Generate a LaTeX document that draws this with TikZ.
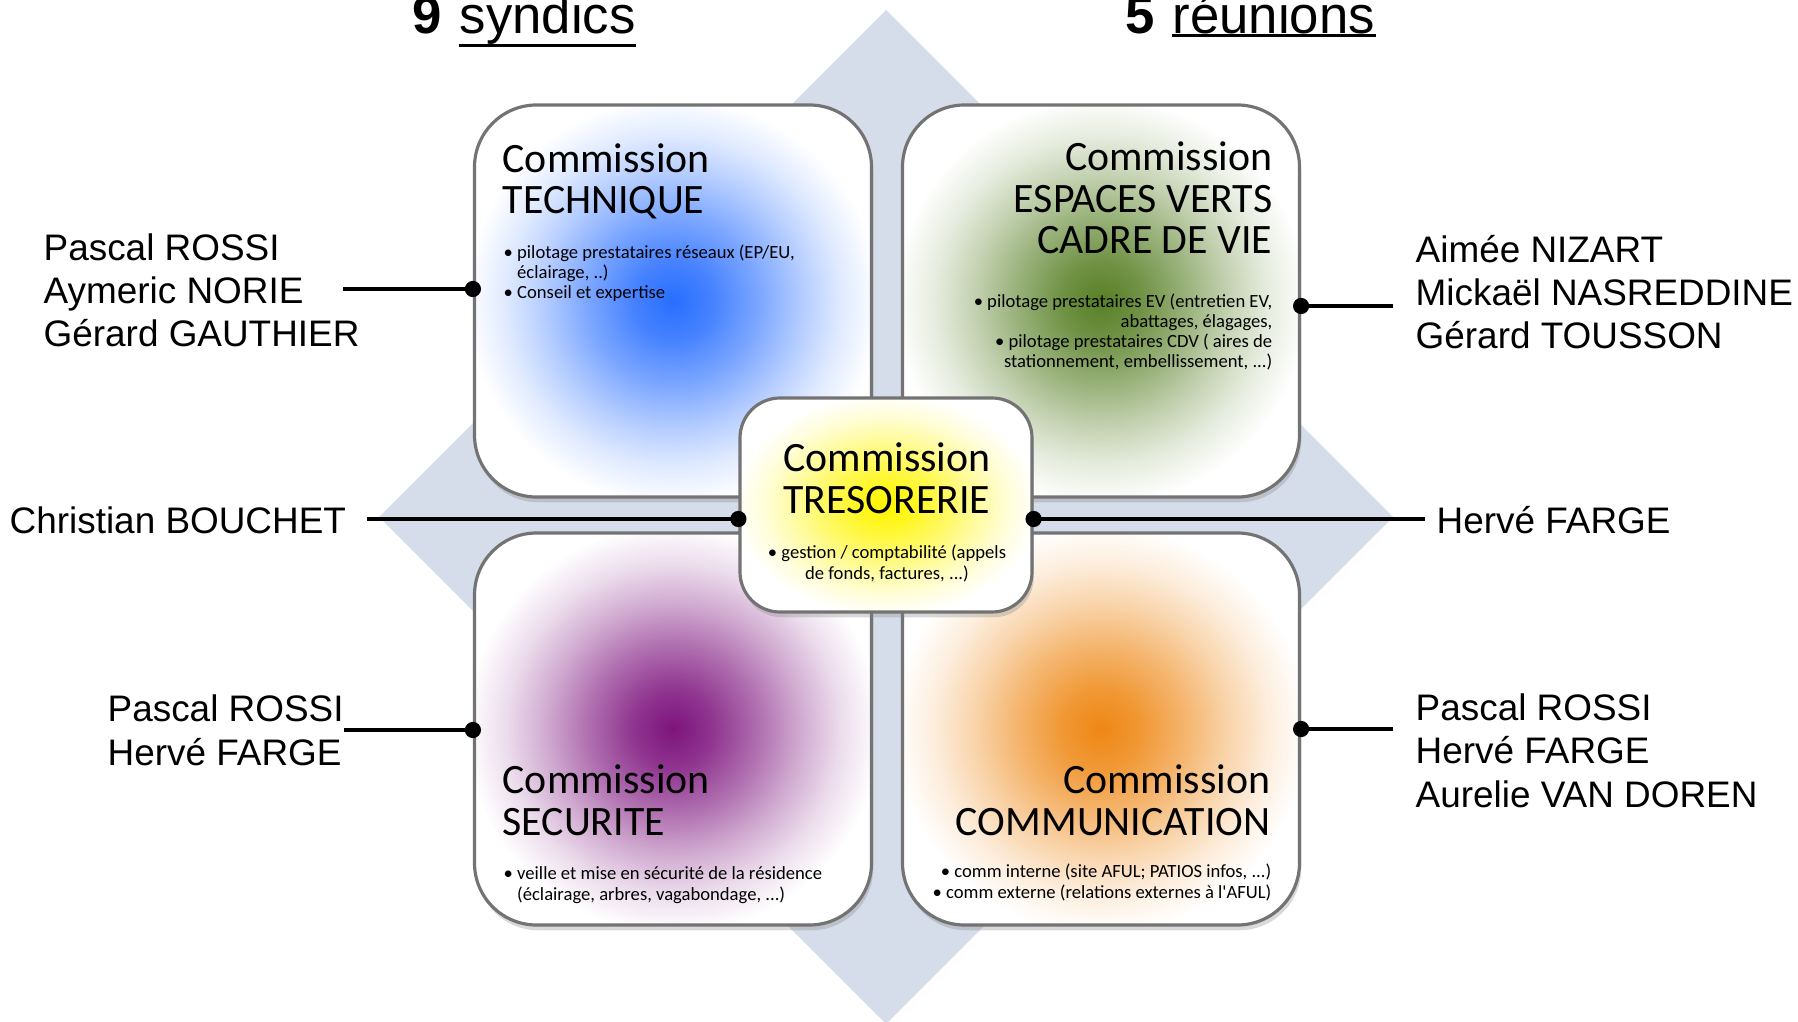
\documentclass[tikz,border=0pt]{standalone}
\usepackage{fontspec}
\usepackage{xcolor}
\setmainfont{Liberation Sans}
\newfontfamily\carlito{Carlito}
\usetikzlibrary{shadows}

\definecolor{diamondblue}{RGB}{213,220,234}
\definecolor{techblue}{RGB}{40,110,255}
\definecolor{evgreen}{RGB}{88,128,38}
\definecolor{secpurple}{RGB}{125,20,125}
\definecolor{comorange}{RGB}{238,135,20}
\definecolor{tresyellow}{RGB}{255,245,0}

\newcommand{\glowshading}[2]{%
  \pgfdeclareradialshading{#1}{\pgfpoint{0bp}{0bp}}{%
    color(0bp)=(#2); color(5bp)=(#2!86!white); color(11bp)=(#2!60!white);
    color(16bp)=(#2!36!white); color(21bp)=(#2!15!white);
    color(26bp)=(white); color(50bp)=(white)}}
\glowshading{techglow}{techblue}
\glowshading{evglow}{evgreen}
\glowshading{secglow}{secpurple}
\glowshading{comglow}{comorange}
\glowshading{tresglow}{tresyellow}

\begin{document}
\begin{tikzpicture}[
    comm/.style={draw=gray!90!black, line width=0.9pt, rounded corners=0.62cm,
      minimum width=3.97cm, minimum height=3.92cm,
      drop shadow={shadow xshift=0.5pt, shadow yshift=-1.5pt, opacity=0.3}},
    ctitle/.style={inner sep=0pt, font=\carlito\fontsize{11.9}{11.9}\selectfont},
    citems/.style={inner sep=0pt, font=\carlito\fontsize{5.3}{5.7}\selectfont},
    names/.style={inner sep=0pt, align=left, anchor=base west,
      font=\fontsize{10.5}{12.3}\selectfont},
    link/.style={line width=1.2pt}]
    \useasboundingbox (0,0) rectangle (17.98,10.21);

    % background diamond
    \fill[diamondblue] (8.86,10.11) -- (13.93,5.04) -- (8.86,-0.03) -- (3.79,5.04) -- cycle;

    % counters
    \node[anchor=base west, inner sep=0pt, font=\fontsize{15}{18}\selectfont] (syndics) at (4.59,9.87) {syndics};
    \node[anchor=base east, inner sep=0pt, font=\bfseries\fontsize{15}{18}\selectfont] (nine) at ([xshift=-0.16cm]syndics.base west) {9};
    \draw[line width=0.8pt] (syndics.south west) -- (syndics.south east);
    \node[anchor=base west, inner sep=0pt, font=\fontsize{15}{18}\selectfont] (reunions) at (11.72,9.87) {réunions};
    \node[anchor=base east, inner sep=0pt, font=\bfseries\fontsize{15}{18}\selectfont] (five) at ([xshift=-0.16cm]reunions.base west) {5};
    \draw[line width=0.8pt] (reunions.south west) -- (reunions.south east);

    % commissions (text nodes sit on their last baseline)
    \node[comm, shading=techglow] (tech) at (6.73,7.20) {};
    \node[comm, shading=evglow] (ev) at (11.01,7.20) {};
    \node[comm, shading=secglow] (sec) at (6.73,2.92) {};
    \node[comm, shading=comglow] (com) at (11.01,2.92) {};
    \node[comm, shading=tresglow, minimum width=2.92cm, minimum height=2.14cm,
      rounded corners=0.4cm] (tres) at (8.86,5.16) {};

    \node[ctitle, align=left, anchor=base west] (techtitle) at (5.02,8.07) {Commission\\TECHNIQUE};
    \node[citems, align=left, anchor=base west] (techitems) at (5.03,7.22)
      {\textbullet\ pilotage prestataires réseaux (EP/EU,\\\phantom{\textbullet\ }éclairage, ..)\\\textbullet\ Conseil et expertise};

    \node[ctitle, align=right, anchor=base east] (evtitle) at (12.73,7.67) {Commission\\ESPACES VERTS\\CADRE DE VIE};
    \node[citems, align=right, anchor=base east] (evitems) at (12.73,6.53)
      {\textbullet\ pilotage prestataires EV (entretien EV,\\abattages, élagages,\\\textbullet\ pilotage prestataires CDV ( aires de\\stationnement, embellissement, ...)};

    \node[ctitle, align=left, anchor=base west] (sectitle) at (5.02,1.86) {Commission\\SECURITE};
    \node[citems, align=left, anchor=base west] (secitems) at (5.03,1.21)
      {\textbullet\ veille et mise en sécurité de la résidence\\\phantom{\textbullet\ }(éclairage, arbres, vagabondage, ...)};

    \node[ctitle, align=right, anchor=base east] (comtitle) at (12.71,1.86) {Commission\\COMMUNICATION};
    \node[citems, align=right, anchor=base east] (comitems) at (12.72,1.23)
      {\textbullet\ comm interne (site AFUL; PATIOS infos, ...)\\\textbullet\ comm externe (relations externes à l'AFUL)};

    \node[ctitle, align=center, anchor=base] (trestitle) at (8.87,5.08) {Commission\\TRESORERIE};
    \node[citems, align=center, anchor=base] (tresitems) at (8.87,4.42)
      {\textbullet\ gestion / comptabilité (appels\\de fonds, factures, ...)};

    % members
    \node[names] (techteam) at (0.43,6.74) {Pascal ROSSI\\Aymeric NORIE\\Gérard GAUTHIER};
    \node[names] (tresteam) at (0.09,4.88) {Christian BOUCHET};
    \node[names] (secteam) at (1.07,2.56) {Pascal ROSSI\\Hervé FARGE};
    \node[names] (evteam) at (14.15,6.72) {Aimée NIZART\\Mickaël NASREDDINE\\Gérard TOUSSON};
    \node[names] (tresteamb) at (14.36,4.88) {Hervé FARGE};
    \node[names] (comteam) at (14.15,2.14) {Pascal ROSSI\\Hervé FARGE\\Aurelie VAN DOREN};

    \coordinate (techend) at (3.43,7.32);
    \coordinate (tresend) at (3.67,5.02);
    \coordinate (secend) at (3.44,2.91);
    \coordinate (evend) at (13.93,7.15);
    \coordinate (tresendb) at (14.25,5.02);
    \coordinate (comend) at (13.93,2.92);

    \draw[link] (techend) -- (techend -| tech.west);
    \draw[link] (tresend) -- (tresend -| tres.west);
    \draw[link] (secend) -- (secend -| sec.west);
    \draw[link] (evend) -- (evend -| ev.east);
    \draw[link] (tresendb) -- (tresendb -| tres.east);
    \draw[link] (comend) -- (comend -| com.east);

    \draw[fill=black] (techend -| tech.west) circle (2.1pt);
    \draw[fill=black] (tresend -| tres.west) circle (2.1pt);
    \draw[fill=black] (secend -| sec.west) circle (2.1pt);
    \draw[fill=black] (evend -| ev.east) circle (2.1pt);
    \draw[fill=black] (tresendb -| tres.east) circle (2.1pt);
    \draw[fill=black] (comend -| com.east) circle (2.1pt);
\end{tikzpicture}
\end{document}
